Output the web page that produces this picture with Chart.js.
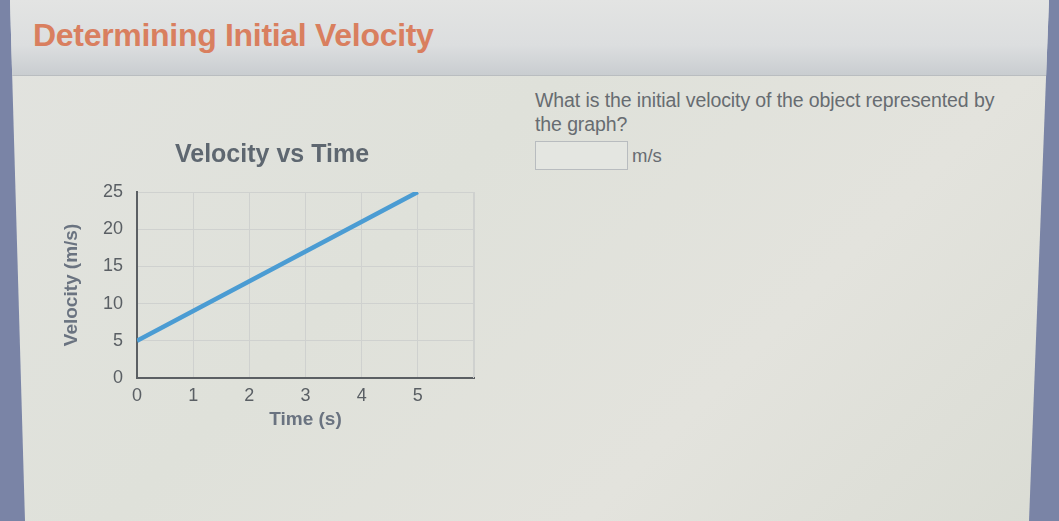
<!DOCTYPE html>
<html>
<head>
<meta charset="utf-8">
<script src="https://cdn.jsdelivr.net/npm/chart.js@4/dist/chart.umd.min.js"></script>
<style>
  html, body { margin:0; padding:0; width:1059px; height:521px; overflow:hidden; background:#7a84a6; font-family:"Liberation Sans", Arial, sans-serif; }
  #page { position:absolute; left:0; top:0; width:1059px; height:521px;
    clip-path: polygon(10px 0, 1049px 0, 1029px 521px, 25px 521px);
    background: linear-gradient(135deg, #e2e3df 0%, #dfe1da 40%, #e3e3dd 70%, #dadcd4 100%); }
  #header { position:absolute; left:0; top:0; width:1059px; height:75px;
    background: linear-gradient(180deg, #e3e4e3 0%, #dcdedf 60%, #c9cdd0 100%);
    border-bottom:1px solid #b9bdc0; }
  #title { position:absolute; left:33px; top:17px; font-size:32px; font-weight:bold; color:#d97f5f; letter-spacing:-0.3px; }
  #q { position:absolute; left:535px; top:88px; width:470px; font-size:19.5px; line-height:24px; color:#676c71; letter-spacing:-0.1px; }
  #box { position:absolute; left:535px; top:141px; width:91px; height:27px; border:1px solid #b8bcbf; background:#e4e6e1; }
  #unit { position:absolute; left:632px; top:145px; font-size:18.5px; color:#676c71; }
  #wrap { position:absolute; left:50px; top:135px; width:440px; height:295px; }
</style>
</head>
<body>
<div id="page">
  <div id="header"><div id="title">Determining Initial Velocity</div></div>
  <div id="q">What is the initial velocity of the object represented by the graph?</div>
  <div id="box"></div>
  <div id="unit">m/s</div>
  <div id="wrap"><canvas id="c"></canvas></div>
</div>
<script>
const times = [0, 1, 2, 3, 4, 5];
const velocities = [5, 9, 13, 17, 21, 25];
const xTicks = [0, 1, 2, 3, 4, 5];
const yTicks = [0, 5, 10, 15, 20, 25];

const pts = times.map((t, i) => ({ x: t, y: velocities[i] }));

new Chart(document.getElementById('c'), {
  type: 'line',
  data: { datasets: [{ data: pts, borderColor: '#4b9cd3', borderWidth: 4.5, pointRadius: 0, fill: false, tension: 0 }] },
  options: {
    responsive: true, maintainAspectRatio: false, animation: false,
    layout: { padding: { right: 16, left: 20, top: 0, bottom: 0 } },
    plugins: {
      legend: { display: false }, tooltip: { enabled: false },
      title: { display: true, text: 'Velocity vs Time', color: '#5e6770',
        font: { family: 'Liberation Sans', size: 25, weight: 'bold' }, padding: { top: 5, bottom: 22 } }
    },
    scales: {
      x: { type: 'linear', min: 0, max: 6,
        afterBuildTicks: s => { s.ticks = [0,1,2,3,4,5,6].map(v => ({ value: v })); },
        ticks: { callback: v => xTicks.includes(v) ? String(v) : '', color: '#5a5f64', padding: 7,
          font: { family: 'Liberation Sans', size: 18 }, maxRotation: 0 },
        grid: { color: '#cfd1cf', lineWidth: 1, drawTicks: false },
        border: { color: '#5b5f63', width: 2 },
        title: { display: true, text: 'Time (s)', color: '#6a7380', padding: { top: 0, bottom: -1 },
          font: { family: 'Liberation Sans', size: 19, weight: 'bold' } },
        afterFit: s => { s.height = 52; }
      },
      y: { type: 'linear', min: 0, max: 25,
        afterBuildTicks: s => { s.ticks = yTicks.map(v => ({ value: v })); },
        ticks: { color: '#5a5f64', padding: 14, font: { family: 'Liberation Sans', size: 18 } },
        grid: { color: '#cfd1cf', lineWidth: 1, drawTicks: false },
        border: { color: '#5b5f63', width: 2 },
        title: { display: true, text: 'Velocity (m/s)', color: '#6a7380', padding: { top: -9.4, bottom: 0 },
          font: { family: 'Liberation Sans', size: 19, weight: 'bold' } },
        afterFit: s => { s.width = 67; }
      }
    }
  },
  plugins: [{
    id: 'rightBorder',
    afterDraw(chart) {
      const a = chart.chartArea, ctx = chart.ctx;
      ctx.save(); ctx.strokeStyle = '#cfd1cf'; ctx.lineWidth = 1;
      ctx.beginPath(); ctx.moveTo(a.right - 0.5, a.top); ctx.lineTo(a.right - 0.5, a.bottom); ctx.stroke();
      ctx.restore();
    }
  }]
});
</script>
</body>
</html>
